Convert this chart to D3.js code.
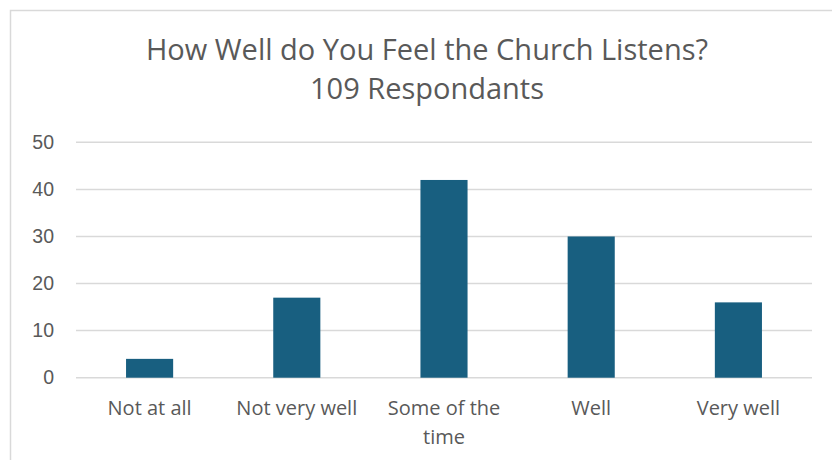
<!DOCTYPE html>
<html lang="en">
<head>
    <meta charset="UTF-8">
    <title>How Well do You Feel the Church Listens?</title>
    <script src="https://cdnjs.cloudflare.com/ajax/libs/d3/7.8.5/d3.min.js"></script>
    <style>
        body {
            margin: 0;
            background-color: white;
            font-family: "Open Sans", "Liberation Sans", Arial, sans-serif;
        }
        svg {
            display: block;
        }
    </style>
</head>
<body>
    <svg id="chart" width="832" height="460"></svg>

    <script>
        // Data
        const categories = ["Not at all", "Not very well", "Some of the time", "Well", "Very well"];
        const values = [4, 17, 42, 30, 16];
        const yTicks = [0, 10, 20, 30, 40, 50];
        const titleLines = ["How Well do You Feel the Church Listens?", "109 Respondants"];

        const width = 832;
        const height = 460;
        const plot = { left: 76, right: 812, top: 142.3, bottom: 377.7 };
        const textColor = "#595959";
        const barColor = "#185f80";
        const gridColor = "#d9d9d9";

        const svg = d3.select("#chart");

        // Chart area border (cut off on right and bottom like the source)
        svg.append("rect")
            .attr("x", 10.5)
            .attr("y", 10.5)
            .attr("width", 860)
            .attr("height", 480)
            .attr("fill", "white")
            .attr("stroke", gridColor)
            .attr("stroke-width", 1.5);

        // Title
        svg.append("g")
            .selectAll("text")
            .data(titleLines)
            .enter()
            .append("text")
            .attr("x", 427)
            .attr("y", (d, i) => 60 + i * 39)
            .attr("text-anchor", "middle")
            .attr("font-size", 29)
            .attr("fill", textColor)
            .text(d => d);

        // Scales
        const x = d3.scaleBand()
            .domain(categories)
            .range([plot.left, plot.right])
            .paddingInner(0.68)
            .paddingOuter(0.34);

        const y = d3.scaleLinear()
            .domain([0, 50])
            .range([plot.bottom, plot.top]);

        // Gridlines
        svg.append("g")
            .selectAll("line")
            .data(yTicks)
            .enter()
            .append("line")
            .attr("x1", plot.left)
            .attr("x2", plot.right)
            .attr("y1", d => y(d))
            .attr("y2", d => y(d))
            .attr("stroke", gridColor)
            .attr("stroke-width", 1.5);

        // Y axis labels
        const yAxis = svg.append("g")
            .attr("transform", `translate(${plot.left - 22},0)`)
            .call(d3.axisLeft(y).tickValues(yTicks).tickSize(0).tickPadding(0));
        yAxis.select(".domain").remove();
        yAxis.selectAll("text")
            .attr("font-family", "inherit")
            .attr("font-size", 19.5)
            .attr("fill", textColor);

        // Bars
        svg.append("g")
            .selectAll("rect")
            .data(values)
            .enter()
            .append("rect")
            .attr("x", (d, i) => x(categories[i]))
            .attr("y", d => y(d))
            .attr("width", x.bandwidth())
            .attr("height", d => y(0) - y(d))
            .attr("fill", barColor);

        // X axis labels (wrapped)
        const xLabels = svg.append("g")
            .selectAll("text")
            .data(categories)
            .enter()
            .append("text")
            .attr("x", d => x(d) + x.bandwidth() / 2)
            .attr("y", 415)
            .attr("text-anchor", "middle")
            .attr("font-size", 20)
            .attr("fill", textColor);

        xLabels.each(function(d) {
            const t = d3.select(this);
            const words = d.split(" ");
            let line = [];
            let tspan = t.append("tspan").attr("x", t.attr("x")).attr("dy", 0);
            words.forEach(w => {
                line.push(w);
                tspan.text(line.join(" "));
                if (tspan.node().getComputedTextLength() > 140 && line.length > 1) {
                    line.pop();
                    tspan.text(line.join(" "));
                    line = [w];
                    tspan = t.append("tspan").attr("x", t.attr("x")).attr("dy", 29).text(w);
                }
            });
        });
    </script>
</body>
</html>
